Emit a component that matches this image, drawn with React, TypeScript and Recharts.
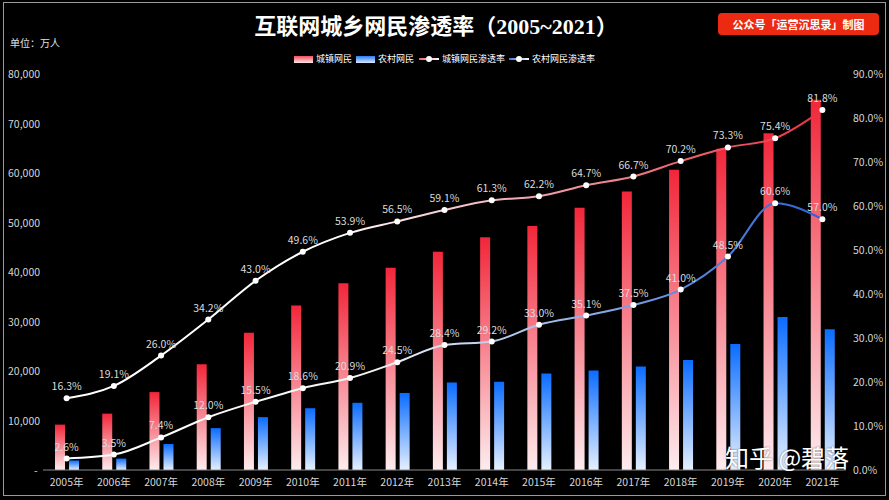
import React from 'react';
import { ComposedChart, Bar, Line, XAxis, YAxis, LabelList, Legend } from 'recharts';

const years = ['2005年', '2006年', '2007年', '2008年', '2009年', '2010年', '2011年', '2012年', '2013年', '2014年', '2015年', '2016年', '2017年', '2018年', '2019年', '2020年', '2021年'];
const urbanUsers = [9168, 11389, 15738, 21340, 27719, 33246, 37731, 40834, 44096, 47029, 49306, 53002, 56282, 60641, 64888, 68006, 74781];
const ruralUsers = [1931, 2311, 5262, 8460, 10681, 12484, 13579, 15566, 17662, 17846, 19520, 20123, 20916, 22210, 25471, 30893, 28414];
const urbanRate = [16.3, 19.1, 26.0, 34.2, 43.0, 49.6, 53.9, 56.5, 59.1, 61.3, 62.2, 64.7, 66.7, 70.2, 73.3, 75.4, 81.8];
const ruralRate = [2.6, 3.5, 7.4, 12.0, 15.5, 18.6, 20.9, 24.5, 28.4, 29.2, 33.0, 35.1, 37.5, 41.0, 48.5, 60.6, 57.0];
const leftTicks = [0, 10000, 20000, 30000, 40000, 50000, 60000, 70000, 80000];
const rightTicks = [0, 10, 20, 30, 40, 50, 60, 70, 80, 90];

const data = years.map((y, i) => ({
  year: y,
  urban: urbanUsers[i],
  rural: ruralUsers[i],
  urbanRate: urbanRate[i],
  ruralRate: ruralRate[i],
}));

const FONT = '"Noto Sans CJK SC", "Noto Sans", sans-serif';
const TICK_COLOR = '#d6d6d6';

const LeftTick = (props: any) => {
  const { y, payload } = props;
  const v = payload.value as number;
  return (
    <text x={v === 0 ? 34 : 8} y={y} dy={4} fill={TICK_COLOR} fontSize={10.5} textAnchor="start" fontFamily={FONT}>
      {v === 0 ? '-' : v.toLocaleString('en-US')}
    </text>
  );
};

const RightTick = (props: any) => {
  const { y, payload } = props;
  const v = payload.value as number;
  return (
    <text x={853} y={y} dy={4} fill={TICK_COLOR} fontSize={10.5} textAnchor="start" fontFamily={FONT}>
      {v.toFixed(1) + '%'}
    </text>
  );
};

const BottomTick = (props: any) => {
  const { x, payload } = props;
  return (
    <text x={x} y={486} fill={TICK_COLOR} fontSize={10.5} textAnchor="middle" fontFamily={FONT}>
      {payload.value}
    </text>
  );
};

const LineIcon = ({ grad }: { grad: string }) => (
  <div style={{ position: 'relative', width: 20, height: 8, marginRight: 3 }}>
    <div style={{ position: 'absolute', left: 0, top: 3, width: 20, height: 2, background: grad }} />
    <div style={{ position: 'absolute', left: 7, top: 1, width: 6, height: 6, borderRadius: 3, background: '#fff' }} />
  </div>
);

const LegendContent = () => (
  <div style={{ display: 'flex', justifyContent: 'center', alignItems: 'center', fontSize: 9, color: '#fff', fontFamily: FONT, lineHeight: '12px' }}>
    <div style={{ width: 19, height: 7, marginRight: 3, background: 'linear-gradient(#f3505e, #fde4e6)' }} />
    <span style={{ marginRight: 4 }}>城镇网民</span>
    <div style={{ width: 19, height: 7, marginRight: 3, background: 'linear-gradient(#2a7cf5, #d8e8ff)' }} />
    <span style={{ marginRight: 5 }}>农村网民</span>
    <LineIcon grad="linear-gradient(90deg, #f0606c, #fff)" />
    <span style={{ marginRight: 4 }}>城镇网民渗透率</span>
    <LineIcon grad="linear-gradient(90deg, #3a78e0, #fff)" />
    <span>农村网民渗透率</span>
  </div>
);

export default function App() {
  return (
    <div style={{ position: 'absolute', left: 0, top: 0, width: 889, height: 500, background: '#000', overflow: 'hidden' }}>
      <div style={{ position: 'absolute', left: 3, top: 2, width: 881, height: 492, border: '1px solid #9a9a9a' }} />
      <div style={{ position: 'absolute', left: 0, top: 12, width: 872, textAlign: 'center', color: '#fff', fontSize: 22, fontWeight: 'bold', fontFamily: '"Liberation Serif", "Noto Sans CJK SC", serif', lineHeight: '30px' }}>
        互联网城乡网民渗透率（2005~2021）
      </div>
      <div style={{ position: 'absolute', left: 718, top: 13, width: 161, height: 22, borderRadius: 4, background: '#ec2a12', color: '#fff', fontSize: 11, fontWeight: 'bold', fontFamily: FONT, lineHeight: '22px', textAlign: 'center' }}>
        公众号「运营沉思录」制图
      </div>
      <div style={{ position: 'absolute', left: 10, top: 36, color: '#e0e0e0', fontSize: 10, fontFamily: FONT, lineHeight: '14px' }}>
        单位：万人
      </div>
      <ComposedChart width={889} height={500} data={data} margin={{ top: 74, right: 0, bottom: 0, left: 0 }} barSize={10} barGap={4}>
        <defs>
          <linearGradient id="barRed" x1="0" y1="0" x2="0" y2="1">
            <stop offset="0%" stopColor="#f2263a" />
            <stop offset="100%" stopColor="#fdecee" />
          </linearGradient>
          <linearGradient id="barBlue" x1="0" y1="0" x2="0" y2="1">
            <stop offset="0%" stopColor="#0a6cff" />
            <stop offset="100%" stopColor="#e6f0ff" />
          </linearGradient>
          <linearGradient id="lineRed" x1="0" y1="0" x2="1" y2="0">
            <stop offset="0%" stopColor="#ffffff" />
            <stop offset="35%" stopColor="#ffffff" />
            <stop offset="58%" stopColor="#f0b0b8" />
            <stop offset="80%" stopColor="#ec6a76" />
            <stop offset="100%" stopColor="#e8323f" />
          </linearGradient>
          <linearGradient id="lineBlue" x1="0" y1="0" x2="1" y2="0">
            <stop offset="0%" stopColor="#ffffff" />
            <stop offset="40%" stopColor="#f4f4f4" />
            <stop offset="62%" stopColor="#a8c2ea" />
            <stop offset="82%" stopColor="#5a88e0" />
            <stop offset="100%" stopColor="#2a62d8" />
          </linearGradient>
        </defs>
        <XAxis dataKey="year" height={30} axisLine={{ stroke: '#8a8a8a' }} tickLine={false} tick={<BottomTick />} interval={0} />
        <YAxis yAxisId="left" orientation="left" width={43} domain={[0, 80000]} ticks={leftTicks} axisLine={false} tickLine={false} tick={<LeftTick />} />
        <YAxis yAxisId="right" orientation="right" width={43} domain={[0, 90]} ticks={rightTicks} axisLine={false} tickLine={false} tick={<RightTick />} />
        <Legend layout="horizontal" verticalAlign="middle" align="center" wrapperStyle={{ top: 53, left: 0, width: 889 }} content={<LegendContent />} />
        <Bar yAxisId="left" dataKey="urban" fill="url(#barRed)" isAnimationActive={false} />
        <Bar yAxisId="left" dataKey="rural" fill="url(#barBlue)" isAnimationActive={false} />
        <Line yAxisId="right" type="monotone" dataKey="urbanRate" stroke="url(#lineRed)" strokeWidth={2} dot={{ r: 3, fill: '#fff', stroke: 'none' }} activeDot={false} isAnimationActive={false}>
          <LabelList dataKey="urbanRate" position="top" offset={8} fill="#dcdcdc" fontSize={10.5} fontFamily={FONT} formatter={(v: any) => Number(v).toFixed(1) + '%'} />
        </Line>
        <Line yAxisId="right" type="monotone" dataKey="ruralRate" stroke="url(#lineBlue)" strokeWidth={2} dot={{ r: 3, fill: '#fff', stroke: 'none' }} activeDot={false} isAnimationActive={false}>
          <LabelList dataKey="ruralRate" position="top" offset={8} fill="#dcdcdc" fontSize={10.5} fontFamily={FONT} formatter={(v: any) => Number(v).toFixed(1) + '%'} />
        </Line>
      </ComposedChart>
      <div style={{ position: 'absolute', left: 725, top: 443, color: '#fff', fontSize: 24, fontFamily: FONT, lineHeight: '28px', textShadow: '0 0 2px rgba(0,0,0,0.6)', whiteSpace: 'nowrap' }}>
        知乎 @碧落
      </div>
    </div>
  );
}
